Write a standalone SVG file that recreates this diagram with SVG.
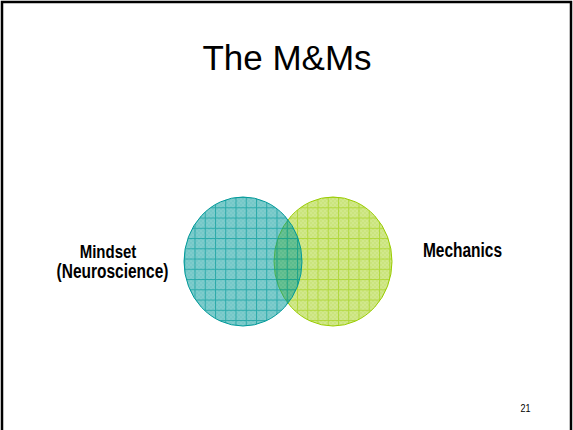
<svg xmlns="http://www.w3.org/2000/svg" width="573" height="430" viewBox="0 0 573 430">
  <style>
    .lbl { font-family: "Liberation Sans", Arial, sans-serif; font-weight: bold; fill: #000; text-anchor: middle; }
    .title { font-family: "Liberation Sans", Arial, sans-serif; font-size: 35px; fill: #000; text-anchor: middle; }
  </style>
  <defs>
    <pattern id="tealChk" patternUnits="userSpaceOnUse" width="4" height="4">
      <rect x="0" y="0" width="2" height="2" fill="#009999" fill-opacity="0.08"/>
      <rect x="2" y="2" width="2" height="2" fill="#009999" fill-opacity="0.08"/>
    </pattern>
    <pattern id="tealGrid" patternUnits="userSpaceOnUse" x="10" y="2.3" width="10.25" height="10.25">
      <rect x="0" y="0" width="1" height="10.25" fill="#009999" fill-opacity="0.65"/>
      <rect x="1" y="0" width="9.25" height="1" fill="#009999" fill-opacity="0.65"/>
    </pattern>
    <pattern id="greenChk" patternUnits="userSpaceOnUse" width="4" height="4">
      <rect x="0" y="0" width="2" height="2" fill="#99cc00" fill-opacity="0.1"/>
      <rect x="2" y="2" width="2" height="2" fill="#99cc00" fill-opacity="0.1"/>
    </pattern>
    <pattern id="greenGrid" patternUnits="userSpaceOnUse" x="10" y="2.3" width="10.25" height="10.25">
      <rect x="0" y="0" width="1" height="10.25" fill="#99cc00" fill-opacity="0.55"/>
      <rect x="1" y="0" width="9.25" height="1" fill="#99cc00" fill-opacity="0.55"/>
    </pattern>
  </defs>

  <rect x="2" y="2" width="569" height="440" fill="#fff" stroke="#000" stroke-width="2.5"/>

  <text class="title" x="287" y="70">The M&amp;Ms</text>

  <g id="mechanics-circle">
    <ellipse cx="333" cy="261.5" rx="59" ry="64.5" fill="#99cc00" fill-opacity="0.45"/>
    <ellipse cx="333" cy="261.5" rx="59" ry="64.5" fill="url(#greenChk)"/>
    <ellipse cx="333" cy="261.5" rx="59" ry="64.5" fill="url(#greenGrid)" stroke="#99cc00" stroke-width="1"/>
  </g>

  <g id="mindset-circle">
    <ellipse cx="243" cy="261.5" rx="59" ry="64.5" fill="#009999" fill-opacity="0.5"/>
    <ellipse cx="243" cy="261.5" rx="59" ry="64.5" fill="url(#tealChk)"/>
    <ellipse cx="243" cy="261.5" rx="59" ry="64.5" fill="url(#tealGrid)" stroke="#009999" stroke-width="1"/>
  </g>

  <g id="mindset-label">
    <text class="lbl" font-size="15" transform="translate(108,258) scale(1,1.25)">Mindset</text>
    <text class="lbl" font-size="15.5" transform="translate(112.5,278) scale(1,1.25)">(Neuroscience)</text>
  </g>

  <g id="mechanics-label">
    <text class="lbl" font-size="15.5" transform="translate(462.5,257) scale(1,1.25)">Mechanics</text>
  </g>

  <g id="page-number">
    <text class="lbl" style="font-weight:normal" font-size="9" transform="translate(525.5,412) scale(1,1.25)">21</text>
  </g>

  <g id="connectors"></g>
</svg>
